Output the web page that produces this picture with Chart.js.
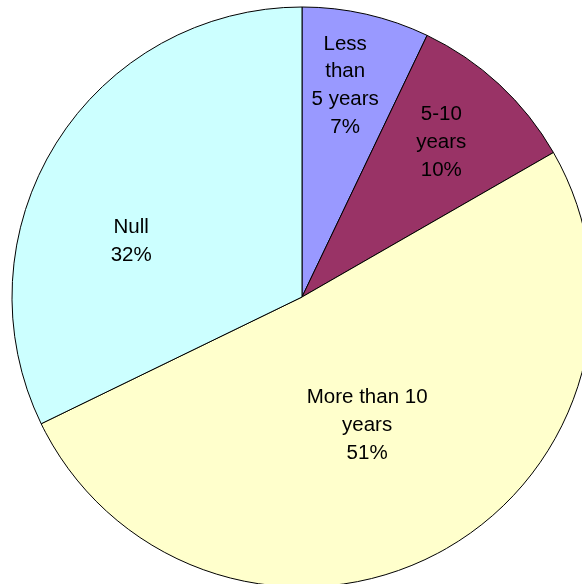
<!DOCTYPE html>
<html>
<head>
<meta charset="utf-8">
<script src="https://cdn.jsdelivr.net/npm/chart.js@4.4.1/dist/chart.umd.min.js"></script>
<style>
  html, body { margin: 0; padding: 0; background: #ffffff; overflow: hidden; width: 582px; height: 584px; }
  #wrap { position: absolute; left: 0; top: 0; width: 604px; height: 594px; }
</style>
</head>
<body>
<div id="wrap"><canvas id="c" width="604" height="594"></canvas></div>
<script>
// ---- data ----
const categories = ["Less than 5 years", "5-10 years", "More than 10 years", "Null"];
const labelLines = [["Less", "than", "5 years"], ["5-10", "years"], ["More than 10", "years"], ["Null"]];
const shareValues = [7.1, 9.6, 51.1, 32.2];

// ---- styling ----
const sliceColors = ["#9999FF", "#993366", "#FFFFCC", "#CCFFFF"];
// label placement: [fraction of radius, angle shift in degrees]
const labelPlacement = [[0.748, -1.3], [0.72, -1.0], [0.493, 0.8], [0.621, -13.6]];

const labelPlugin = {
  id: "sliceLabels",
  afterDatasetsDraw(chart) {
    const ctx = chart.ctx;
    const meta = chart.getDatasetMeta(0);
    const data = chart.data.datasets[0].data;
    const total = data.reduce((a, b) => a + b, 0);
    ctx.save();
    ctx.font = "20.5px 'Liberation Sans', Arial, sans-serif";
    ctx.fillStyle = "#000000";
    ctx.textAlign = "center";
    ctx.textBaseline = "middle";
    const lineH = 27.7;
    meta.data.forEach((arc, i) => {
      const p = arc.getProps(["x", "y", "startAngle", "endAngle", "outerRadius"], true);
      const mid = (p.startAngle + p.endAngle) / 2 + labelPlacement[i][1] * Math.PI / 180;
      const r = p.outerRadius * labelPlacement[i][0];
      const cx = p.x + Math.cos(mid) * r;
      const cy = p.y + Math.sin(mid) * r + 1;
      const pct = Math.round(data[i] / total * 100) + "%";
      const lines = labelLines[i].concat([pct]);
      const y0 = cy - (lines.length - 1) * lineH / 2;
      lines.forEach((t, k) => ctx.fillText(t, cx, y0 + k * lineH));
    });
    ctx.restore();
  }
};

new Chart(document.getElementById("c"), {
  type: "pie",
  data: {
    labels: categories,
    datasets: [{
      data: shareValues,
      backgroundColor: sliceColors,
      borderColor: "#000000",
      borderWidth: 1,
      borderAlign: "center"
    }]
  },
  options: {
    responsive: false,
    devicePixelRatio: 1,
    animation: false,
    radius: 290,
    layout: { padding: 0 },
    plugins: {
      legend: { display: false },
      tooltip: { enabled: false }
    }
  },
  plugins: [labelPlugin]
});
</script>
</body>
</html>
